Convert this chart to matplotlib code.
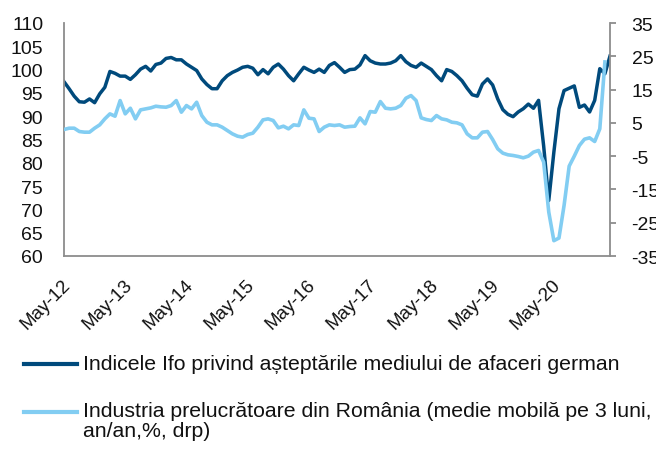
import matplotlib
matplotlib.use('Agg')
import matplotlib.pyplot as plt
import matplotlib.transforms as mtransforms
from matplotlib.lines import Line2D
import numpy as np

plt.rcParams['font.family'] = ['Liberation Sans', 'DejaVu Sans']
plt.rcParams['axes.unicode_minus'] = False

# monthly data, May 2012 - Apr 2021
ifo = [97.4, 95.9, 94.3, 93.1, 93.0, 93.7, 92.9, 94.8, 96.2, 99.6,
       99.2, 98.6, 98.6, 97.9, 98.9, 100.1, 100.7, 99.7, 101.1, 101.4,
       102.4, 102.6, 102.1, 102.1, 101.2, 100.5, 99.8, 98.0, 96.8, 95.9,
       95.9, 97.6, 98.7, 99.4, 99.9, 100.5, 100.7, 100.3, 98.9, 100.0,
       99.1, 100.5, 101.2, 100.1, 98.7, 97.6, 99.1, 100.5, 99.9, 99.4,
       100.1, 99.4, 100.9, 101.5, 100.5, 99.4, 100.0, 100.1, 101.0, 103.0,
       101.9, 101.4, 101.2, 101.2, 101.4, 101.9, 103.0, 101.7, 100.9, 100.5,
       101.4, 100.7, 100.0, 98.7, 97.6, 100.0, 99.6, 98.7, 97.6, 96.0,
       94.6, 94.3, 96.9, 98.0, 96.7, 93.7, 91.4, 90.4, 89.9, 90.9,
       91.6, 92.6, 91.7, 93.4, 83.6, 71.9, 82.3, 91.6, 95.5, 96.0,
       96.5, 91.9, 92.4, 90.9, 93.4, 100.2, 99.1, 102.9]

romania = [3.0, 3.4, 3.4, 2.4, 2.2, 2.2, 3.4, 4.4, 6.2, 7.7,
           7.0, 11.7, 7.7, 9.4, 6.2, 8.9, 9.2, 9.5, 10.0, 9.8,
           9.7, 10.2, 11.7, 8.2, 10.2, 9.2, 11.2, 7.2, 5.2, 4.4,
           4.4, 3.7, 2.7, 1.7, 1.0, 0.7, 1.5, 1.9, 3.7, 5.9,
           6.2, 5.7, 3.5, 4.0, 3.2, 4.4, 4.2, 8.9, 6.4, 6.2,
           2.4, 3.7, 4.4, 4.2, 4.4, 3.7, 3.9, 4.0, 6.5, 4.7,
           8.4, 8.2, 11.4, 9.4, 9.2, 9.4, 10.2, 12.4, 13.2, 11.7,
           6.5, 6.0, 5.7, 7.2, 6.2, 5.9, 5.2, 5.0, 4.4, 1.7,
           0.5, 0.5, 2.2, 2.4, 0.0, -2.8, -4.1, -4.6, -4.8, -5.1,
           -5.5, -5.0, -3.8, -3.3, -6.8, -21.8, -30.4, -29.6, -19.8, -8.0,
           -5.0, -1.8, 0.1, 0.5, -0.6, 3.2, 23.3, np.nan]

tick_pos = [0, 12, 24, 36, 48, 60, 72, 84, 96]
tick_labels = ['May-12', 'May-13', 'May-14', 'May-15', 'May-16',
               'May-17', 'May-18', 'May-19', 'May-20']

label_ifo = 'Indicele Ifo privind așteptările mediului de afaceri german'
label_ro = 'Industria prelucrătoare din România (medie mobilă pe 3 luni,\nan/an,%, drp)'

dark = '#004a7c'
light = '#82cdf2'
gray = '#8c8c8c'

x = np.arange(len(ifo))

fig = plt.figure(figsize=(6.56, 4.52), dpi=100)
ax = fig.add_axes([64/656, 1-257/452, (610-64)/656, (257-24)/452])
ax2 = ax.twinx()

ax.plot(x, ifo, color=dark, lw=2.5)
ax2.plot(x, romania, color=light, lw=2.6)

ax.set_xlim(0, len(ifo)-1)
ax.set_ylim(60, 110)
ax.set_yticks(range(60, 111, 5))
ax2.set_ylim(-35, 35)
ax2.set_yticks(range(-35, 36, 10))

for s in ['top', 'right']:
    ax.spines[s].set_visible(False)
for s in ['top', 'left', 'bottom']:
    ax2.spines[s].set_visible(False)
for sp in [ax.spines['left'], ax.spines['bottom'], ax2.spines['right']]:
    sp.set_color(gray)
    sp.set_linewidth(1.3)

ax.tick_params(axis='y', length=0, pad=15, labelsize=14, labelcolor='#111111')
ax.tick_params(axis='x', length=0, pad=14, labelsize=13.5, labelcolor='#111111')
ax2.tick_params(axis='y', length=4.5, width=1.3, color=gray, pad=11,
                labelsize=14, labelcolor='#111111')

ax.set_xticks(tick_pos)
ax.set_xticklabels(tick_labels, rotation=45, ha='right', va='top',
                   rotation_mode='anchor')
shift = mtransforms.ScaledTranslation(-2/100, 0, fig.dpi_scale_trans)
for lab in ax.get_xticklabels():
    lab.set_transform(lab.get_transform() + shift)

# legend below the chart
fig.add_artist(Line2D([24/656, 77/656], [1-365/452, 1-365/452],
                      transform=fig.transFigure, color=dark, lw=3))
fig.text(83/656, 1-365/452, label_ifo, fontsize=15.3, va='center', color='#111111')
fig.add_artist(Line2D([24/656, 77/656], [1-413/452, 1-413/452],
                      transform=fig.transFigure, color=light, lw=3))
fig.text(83/656, 1-402/452, label_ro, fontsize=15.3, va='top', linespacing=1.05,
         color='#111111')

fig.savefig('out.png', dpi=100)
